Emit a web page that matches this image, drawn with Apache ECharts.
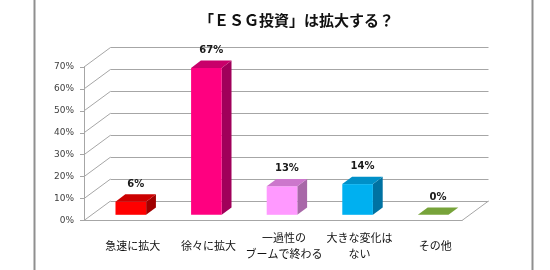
<!DOCTYPE html>
<html><head><meta charset="utf-8">
<script src="https://cdn.jsdelivr.net/npm/echarts@6/dist/echarts.min.js"></script>
<style>html,body{margin:0;padding:0;background:#fff}#c{width:550px;height:270px}</style>
</head><body><div id="c"></div>
<script>
const categories = ['急速に拡大', '徐々に拡大', '一過性の\nブームで終わる', '大きな変化は\nない', 'その他'];
const values = [6, 67, 13, 14, 0];
const yTicks = [0, 10, 20, 30, 40, 50, 60, 70];
const titleText = '「ＥＳＧ投資」は拡大する？';

// styles
const palette = [
  {front: '#ff0000', top: '#cc0000', side: '#a00000'},
  {front: '#ff0080', top: '#c8006a', side: '#a0005a'},
  {front: '#ff99ff', top: '#cc77cc', side: '#a868a8'},
  {front: '#00b0f0', top: '#0090c8', side: '#0072a2'},
  {front: '#77a33a', top: '#77a33a', side: '#5d8430'}
];
const DX = 26.5, DY = -19.5;       // depth of floor
const OX = 9, OY = -5.7;           // bar front offset into floor
const BX = 9.8, BY = -7.4;         // bar depth
const LINE = '#a6a6a6';
const G = {left: 84, top: 67, width: 378, height: 153.5};

const chart = echarts.init(document.getElementById('c'), null, {renderer: 'canvas'});
chart.setOption({
  animation: false,
  title: {
    text: titleText, left: 291.5, top: 8, textAlign: 'center',
    textStyle: {fontFamily: 'Noto Sans CJK JP', fontSize: 15, fontWeight: 'bold', color: '#111'}
  },
  graphic: [{
    type: 'rect', shape: {x: 34.5, y: -10, width: 498, height: 300},
    style: {fill: null, stroke: '#8f8f8f', lineWidth: 2}, silent: true
  }],
  grid: [
    {left: G.left, top: G.top, width: G.width, height: G.height},
    {left: G.left + DX, top: G.top + DY, width: G.width, height: G.height},
    {left: G.left + 11, top: G.top, width: G.width, height: G.height}
  ],
  xAxis: [
    {type: 'category', gridIndex: 0, data: categories,
     axisLine: {show: true, lineStyle: {color: LINE, width: 1}}, axisTick: {show: false}, axisLabel: {show: false}},
    {type: 'category', gridIndex: 1, data: categories, show: false},
    {type: 'category', gridIndex: 2, data: categories,
     axisLine: {show: false}, axisTick: {show: false},
     axisLabel: {margin: 25, verticalAlign: 'middle', lineHeight: 16, fontFamily: 'Noto Sans CJK JP',
                 fontSize: 11, color: '#111', interval: 0}}
  ],
  yAxis: [
    {type: 'value', gridIndex: 0, min: 0, max: 70, interval: 10,
     axisLine: {show: true, lineStyle: {color: LINE}},
     axisTick: {show: true, length: 4, lineStyle: {color: LINE}},
     splitLine: {show: false},
     axisLabel: {formatter: '{value}%', margin: 10, fontFamily: 'DejaVu Sans', fontSize: 9, color: '#404040'}},
    {type: 'value', gridIndex: 1, min: 0, max: 70, interval: 10,
     axisLine: {show: false}, axisTick: {show: false}, axisLabel: {show: false},
     splitLine: {show: true, lineStyle: {color: LINE, width: 1}}},
    {type: 'value', gridIndex: 2, min: 0, max: 70, show: false}
  ],
  series: [
    {
      type: 'custom', xAxisIndex: 0, yAxisIndex: 0, clip: false, silent: true, z: 1,
      data: yTicks.map(v => [0, v]),
      renderItem: function (params, api) {
        const y = api.coord([0, api.value(1)])[1];
        const x = params.coordSys.x;
        const ch = [{type: 'line', shape: {x1: x, y1: y, x2: x + DX, y2: y + DY},
                     style: {stroke: LINE, lineWidth: 1}}];
        if (api.value(1) === 0) {
          const xr = x + params.coordSys.width;
          ch.push({type: 'line', shape: {x1: xr, y1: y, x2: xr + DX, y2: y + DY},
                   style: {stroke: LINE, lineWidth: 1}});
        }
        return {type: 'group', children: ch};
      }
    },
    {
      type: 'custom', xAxisIndex: 0, yAxisIndex: 0, clip: false, silent: true, z: 5,
      data: values.map((v, i) => [i, v]),
      renderItem: function (params, api) {
        const i = api.value(0), v = api.value(1);
        const c = palette[i];
        const t = api.coord([i, v]), b = api.coord([i, 0]);
        const bw = api.size([1, 0])[0] * 0.405;
        const x0 = t[0] - bw / 2 + OX, x1 = x0 + bw;
        const yT = t[1] + OY, yB = b[1] + OY;
        const ch = [];
        if (v > 0) {
          ch.push({type: 'polygon', shape: {points: [[x1, yB], [x1, yT], [x1 + BX, yT + BY], [x1 + BX, yB + BY]]},
                   style: {fill: c.side}});
          ch.push({type: 'rect', shape: {x: x0, y: yT, width: bw, height: yB - yT}, style: {fill: c.front}});
        }
        ch.push({type: 'polygon', shape: {points: [[x0, yT], [x1, yT], [x1 + BX, yT + BY], [x0 + BX, yT + BY]]},
                 style: {fill: c.top}});
        ch.push({type: 'text', x: x0 + bw / 2 + BX / 2, y: yT + BY - 10,
                 style: {text: v + '%', align: 'center', verticalAlign: 'middle',
                         font: 'bold 10px "DejaVu Sans"', fill: '#1a1a1a'}});
        return {type: 'group', children: ch};
      }
    }
  ]
});
</script></body></html>
